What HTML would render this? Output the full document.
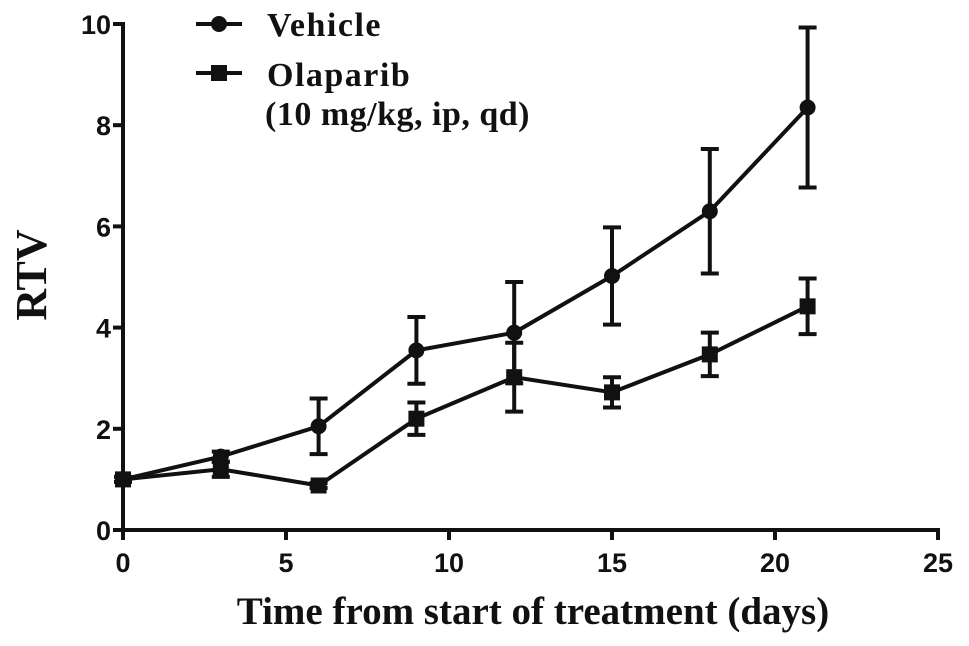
<!DOCTYPE html>
<html><head><meta charset="utf-8"><style>
html,body{margin:0;padding:0;background:#fff;width:969px;height:646px;overflow:hidden}
svg text{fill:#111}
.tick{font-family:"Liberation Sans",sans-serif;font-weight:bold;font-size:27px}
.ser{font-family:"Liberation Serif",serif;font-weight:bold}
</style></head><body>
<svg id="chart" width="969" height="646" viewBox="0 0 969 646" xmlns="http://www.w3.org/2000/svg">
<g id="axes"></g><g id="series"></g>
<text class="ser" x="533" y="624" font-size="39" text-anchor="middle">Time from start of treatment (days)</text>
<text class="ser" transform="translate(46,275) rotate(-90)" font-size="44" text-anchor="middle">RTV</text>
<g>
<g>
<line x1="196" y1="24" x2="242" y2="24" stroke="#111" stroke-width="4"/><circle cx="219" cy="24" r="8" fill="#111"/>
<text class="ser" x="267" y="36" font-size="34" letter-spacing="1.5">Vehicle</text></g>
<g>
<line x1="196" y1="73" x2="242" y2="73" stroke="#111" stroke-width="4"/><rect x="211" y="65" width="16" height="16" fill="#111"/>
<text class="ser" x="267" y="86" font-size="34" letter-spacing="1.5">Olaparib</text>
<text class="ser" x="265" y="125" font-size="34" letter-spacing="0.5">(10 mg/kg, ip, qd)</text></g>
</g>
</svg>
<script>
const days = [0, 3, 6, 9, 12, 15, 18, 21];
const vehicleMean = [1, 1.45, 2.05, 3.55, 3.9, 5.02, 6.3, 8.35];
const vehicleErr = [0.05, 0.1, 0.55, 0.66, 1.0, 0.96, 1.23, 1.58];
const olaparibMean = [1, 1.2, 0.88, 2.2, 3.02, 2.72, 3.47, 4.42];
const olaparibErr = [0.05, 0.15, 0.05, 0.32, 0.68, 0.3, 0.43, 0.55];
const xTicks = [0, 5, 10, 15, 20, 25];
const yTicks = [0, 2, 4, 6, 8, 10];
const X0 = 123, X1 = 938, Y0 = 530, Y1 = 24;
const xs = v => X0 + v / 25 * (X1 - X0);
const ys = v => Y0 - v / 10 * (Y0 - Y1);
const NS = "http://www.w3.org/2000/svg";
function mk(tag, attrs, parent) {
  const e = document.createElementNS(NS, tag);
  for (const k in attrs) e.setAttribute(k, attrs[k]);
  parent.appendChild(e); return e;
}
const axes = document.getElementById('axes');
const yAxis = mk('line', {x1: X0, y1: Y1 - 2, x2: X0, y2: Y0 + 2, stroke: '#111', 'stroke-width': 4}, axes);


const xAxis = mk('line', {x1: X0 - 2, y1: Y0, x2: X1 + 2, y2: Y0, stroke: '#111', 'stroke-width': 4}, axes);


yTicks.forEach(t => {
  mk('line', {x1: X0 - 10, y1: ys(t), x2: X0, y2: ys(t), stroke: '#111', 'stroke-width': 4}, axes);
  const tx = mk('text', {x: X0 - 12, y: ys(t) + 10, 'text-anchor': 'end', class: 'tick'}, axes);
  tx.textContent = t;
  
  
});
xTicks.forEach(t => {
  mk('line', {x1: xs(t), y1: Y0, x2: xs(t), y2: Y0 + 10, stroke: '#111', 'stroke-width': 4}, axes);
  const tx = mk('text', {x: xs(t), y: Y0 + 42, 'text-anchor': 'middle', class: 'tick'}, axes);
  tx.textContent = t;
  
  
});
const sg = document.getElementById('series');
function drawSeries(name, mean, err, shape) {
  const g = mk('g', {}, sg);
  
  
  mk('polyline', {points: days.map((d, i) => xs(d) + ',' + ys(mean[i])).join(' '), fill: 'none', stroke: '#111', 'stroke-width': 4}, g);
  days.forEach((d, i) => {
    const x = xs(d), hi = ys(mean[i] + err[i]), lo = ys(mean[i] - err[i]);
    const eb = mk('path', {d: `M${x},${hi}V${lo}M${x-9},${hi}H${x+9}M${x-9},${lo}H${x+9}`, stroke: '#111', 'stroke-width': 4, fill: 'none'}, g);
    
    
    let m;
    if (shape === 'circle') m = mk('circle', {cx: x, cy: ys(mean[i]), r: 8, fill: '#111'}, g);
    else m = mk('rect', {x: x - 8, y: ys(mean[i]) - 8, width: 16, height: 16, fill: '#111'}, g);
    
    
  });
}
drawSeries('vehicle', vehicleMean, vehicleErr, 'circle');
drawSeries('olaparib', olaparibMean, olaparibErr, 'square');
</script>
</body></html>
